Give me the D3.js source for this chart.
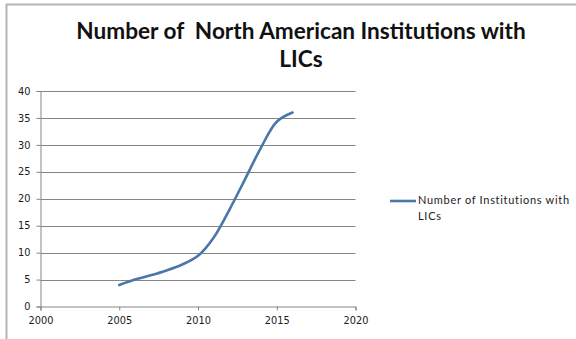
<!DOCTYPE html>
<html>
<head>
<meta charset="utf-8">
<script src="https://cdn.jsdelivr.net/npm/d3@7"></script>
<style>
  html, body { margin: 0; padding: 0; background: #fff; }
  svg { display: block; }
</style>
</head>
<body>
<svg id="chart" width="576" height="339"></svg>
<script>
// Series: number of institutions with LICs by year
const years = [2005, 2006, 2007, 2008, 2009, 2010, 2011, 2012, 2013, 2014, 2015, 2016];
const institutions = [4.0, 5.0, 5.8, 6.7, 7.8, 9.4, 12.8, 18.0, 23.7, 29.5, 34.3, 36.0];

const xTicks = [2000, 2005, 2010, 2015, 2020];
const yTicks = [0, 5, 10, 15, 20, 25, 30, 35, 40];

const titleLines = ["Number of  North American Institutions with", "LICs"];
const seriesName = ["Number of Institutions with", "LICs"];

const svg = d3.select("#chart");

// chart frame (top and left edge)
svg.append("path")
  .attr("d", "M6.5,600 V4.5 H700")
  .attr("fill", "none")
  .attr("stroke", "#b4b4b4")
  .attr("stroke-width", 2);

const x = d3.scaleLinear().domain([2000, 2020]).range([40.5, 355.5]);
const y = d3.scaleLinear().domain([0, 40]).range([306.5, 91]);

// horizontal gridlines
svg.append("g")
  .selectAll("line")
  .data(yTicks.filter(d => d > 0))
  .join("line")
  .attr("x1", x(2000))
  .attr("x2", x(2020))
  .attr("y1", d => Math.round(y(d)) + 0.5)
  .attr("y2", d => Math.round(y(d)) + 0.5)
  .attr("stroke", "#858585")
  .attr("stroke-width", 1.2);

// y axis
const yAxis = svg.append("g")
  .attr("transform", `translate(${x(2000)},0)`)
  .call(d3.axisLeft(y).tickValues(yTicks).tickSize(4).tickPadding(6).tickFormat(d3.format("d")));
yAxis.select(".domain").attr("stroke", "#858585");
yAxis.selectAll(".tick line").attr("stroke", "#858585");
yAxis.selectAll("text")
  .attr("font-family", "DejaVu Sans, Verdana, sans-serif")
  .attr("font-size", 9.8)
  .attr("fill", "#1a1a1a");

// x axis
const xAxis = svg.append("g")
  .attr("transform", `translate(0,${y(0)})`)
  .call(d3.axisBottom(x).tickValues(xTicks).tickSize(4).tickPadding(7).tickFormat(d3.format("d")));
xAxis.select(".domain").attr("stroke", "#858585");
xAxis.selectAll(".tick line").attr("stroke", "#858585");
xAxis.selectAll("text")
  .attr("font-family", "DejaVu Sans, Verdana, sans-serif")
  .attr("font-size", 9.8)
  .attr("fill", "#1a1a1a");

// smoothed series line
const line = d3.line()
  .x((d, i) => x(years[i]))
  .y(d => y(d))
  .curve(d3.curveCatmullRom.alpha(0.5));

svg.append("path")
  .datum(institutions)
  .attr("d", line)
  .attr("fill", "none")
  .attr("stroke", "#4a76a8")
  .attr("stroke-width", 2.6)
  .attr("stroke-linecap", "round");

// title
svg.append("g")
  .selectAll("text")
  .data(titleLines)
  .join("text")
  .attr("x", 301)
  .attr("y", (d, i) => 39 + i * 28)
  .attr("text-anchor", "middle")
  .attr("font-family", "Lato, 'Open Sans', sans-serif")
  .attr("font-weight", "bold")
  .attr("font-size", 22.6)
  .attr("fill", "#111")
  .style("white-space", "pre")
  .text(d => d);

// legend
svg.append("line")
  .attr("x1", 390).attr("x2", 416)
  .attr("y1", 201).attr("y2", 201)
  .attr("stroke", "#4a76a8")
  .attr("stroke-width", 2.6);

svg.append("g")
  .selectAll("text")
  .data(seriesName)
  .join("text")
  .attr("x", 418)
  .attr("y", (d, i) => 204 + i * 16)
  .attr("font-family", "Lato, 'Open Sans', sans-serif")
  .attr("font-size", 11)
  .attr("letter-spacing", 0.7)
  .attr("fill", "#222")
  .text(d => d);
</script>
</body>
</html>
